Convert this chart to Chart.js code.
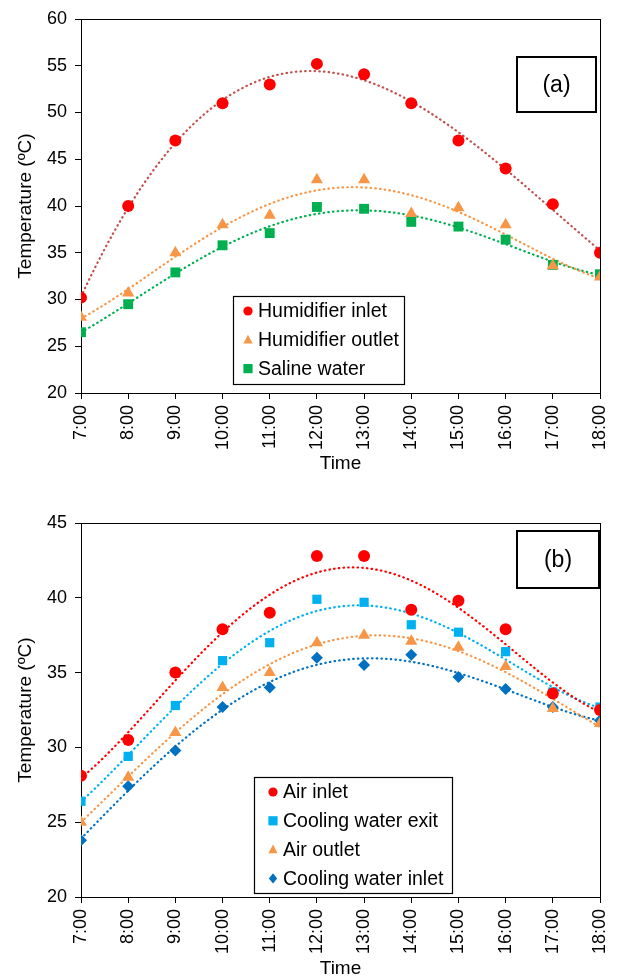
<!DOCTYPE html>
<html>
<head>
<meta charset="utf-8">
<script src="https://cdn.jsdelivr.net/npm/chart.js@4.4.1/dist/chart.umd.min.js"></script>
<style>
  body { margin: 0; background: #fff; }
  .box { width: 618px; position: relative; }
</style>
</head>
<body>
<div class="box" style="height:480px"><canvas id="chartA"></canvas></div>
<div class="box" style="height:496px"><canvas id="chartB"></canvas></div>
<script>
// ---- data ----
const hours = [7, 8, 9, 10, 11, 12, 13, 14, 15, 16, 17, 18];
const timeLabels = ['7:00', '8:00', '9:00', '10:00', '11:00', '12:00', '13:00', '14:00', '15:00', '16:00', '17:00', '18:00'];
const yTicksA = [20, 25, 30, 35, 40, 45, 50, 55, 60];
const yTicksB = [20, 25, 30, 35, 40, 45];

// (a)
const humidifierInlet  = [30.2, 40.0, 47.0, 51.0, 53.0, 55.2, 54.1, 51.0, 47.0, 44.0, 40.2, 35.0];
const humidifierOutlet = [28.1, 30.7, 35.0, 38.0, 39.0, 42.8, 42.8, 39.2, 39.8, 38.0, 33.6, 32.4];
const salineWater      = [26.5, 29.5, 32.9, 35.8, 37.1, 39.9, 39.7, 38.3, 37.8, 36.4, 33.7, 32.7];

// (b)
const airInlet          = [28.1, 30.5, 35.0, 37.9, 39.0, 42.8, 42.8, 39.2, 39.8, 37.9, 33.6, 32.5];
const coolingWaterExit  = [26.4, 29.4, 32.8, 35.8, 37.0, 39.9, 39.7, 38.2, 37.7, 36.4, 33.7, 32.7];
const airOutlet         = [25.0, 28.0, 31.0, 34.0, 35.0, 37.0, 37.5, 37.1, 36.7, 35.4, 32.6, 31.6];
const coolingWaterInlet = [23.8, 27.4, 29.8, 32.7, 34.0, 36.0, 35.5, 36.2, 34.7, 33.9, 32.7, 31.8];

const RED = '#FF0000', ORANGE = '#F79646', GREEN = '#00B050', CYAN = '#00B0F0', BLUE = '#0070C0';
const FONT = "'Liberation Sans', Arial, sans-serif";

// least-squares polynomial trendline (like the spreadsheet's polynomial trendline)
function polyFit(xs, ys, order) {
  const n = order + 1;
  const A = Array.from({ length: n }, () => new Array(n + 1).fill(0));
  xs.forEach((x, i) => {
    const t = x - 12.5;
    for (let r = 0; r < n; r++) {
      for (let c = 0; c < n; c++) A[r][c] += Math.pow(t, r + c);
      A[r][n] += ys[i] * Math.pow(t, r);
    }
  });
  for (let p = 0; p < n; p++) {
    let best = p;
    for (let r = p + 1; r < n; r++) if (Math.abs(A[r][p]) > Math.abs(A[best][p])) best = r;
    [A[p], A[best]] = [A[best], A[p]];
    for (let r = 0; r < n; r++) {
      if (r === p) continue;
      const f = A[r][p] / A[p][p];
      for (let c = p; c <= n; c++) A[r][c] -= f * A[p][c];
    }
  }
  return A.map((row, i) => row[n] / row[i]);
}
function trend(ys) {
  const k = polyFit(hours, ys, 4);
  const pts = [];
  for (let x = hours[0]; x <= hours[hours.length - 1] + 1e-9; x += 0.1) {
    const t = x - 12.5;
    pts.push({ x: x, y: k.reduce((s, c, i) => s + c * Math.pow(t, i), 0) });
  }
  return pts;
}
const pts = ys => hours.map((h, i) => ({ x: h, y: ys[i] }));

function markerSet(label, ys, color, style, radius) {
  return { label, data: pts(ys), backgroundColor: color, borderColor: color, borderWidth: 0,
           pointStyle: style, pointRadius: radius, showLine: false, legend: true, order: 0 };
}
function trendSet(ys, color) {
  return { data: trend(ys), borderColor: color, borderWidth: 2.2, borderDash: [0.5, 4.2],
           borderCapStyle: 'round', pointRadius: 0, showLine: true, fill: false, order: 1 };
}

// marker drawing for the boxed legend
function drawMarker(ctx, style, x, y, r) {
  ctx.beginPath();
  if (style === 'circle') ctx.arc(x, y, r, 0, Math.PI * 2);
  else if (style === 'triangle') { ctx.moveTo(x, y - r * 1.1); ctx.lineTo(x + r, y + r * 0.8); ctx.lineTo(x - r, y + r * 0.8); ctx.closePath(); }
  else if (style === 'rect') ctx.rect(x - r, y - r, r * 2, r * 2);
  else if (style === 'rectRot') { ctx.moveTo(x, y - r * 1.1); ctx.lineTo(x + r * 0.9, y); ctx.lineTo(x, y + r * 1.1); ctx.lineTo(x - r * 0.9, y); ctx.closePath(); }
  ctx.fill();
}

const framePlugin = {
  id: 'frame',
  beforeDatasetsDraw(chart) {
    const { ctx, chartArea: a } = chart;
    ctx.save();
    ctx.strokeStyle = '#000';
    ctx.lineWidth = 1;
    ctx.strokeRect(a.left + 0.5, a.top + 0.5, a.right - a.left, a.bottom - a.top);
    ctx.restore();
  }
};

const boxLegend = {
  id: 'boxLegend',
  afterDraw(chart, args, o) {
    const ctx = chart.ctx;
    ctx.save();
    // panel tag
    ctx.fillStyle = '#fff';
    ctx.fillRect(o.tag.x, o.tag.y, o.tag.w, o.tag.h);
    ctx.strokeStyle = '#000';
    ctx.lineWidth = 2;
    ctx.strokeRect(o.tag.x, o.tag.y, o.tag.w, o.tag.h);
    ctx.fillStyle = '#000';
    ctx.font = '23px ' + FONT;
    ctx.textAlign = 'center';
    ctx.textBaseline = 'middle';
    ctx.fillText(o.tag.text, o.tag.x + o.tag.w / 2, o.tag.y + o.tag.h / 2 + 1);
    // legend
    ctx.fillStyle = '#fff';
    ctx.fillRect(o.x, o.y, o.w, o.h);
    ctx.lineWidth = 1.2;
    ctx.strokeRect(o.x + 0.5, o.y + 0.5, o.w, o.h);
    ctx.font = '19.5px ' + FONT;
    ctx.textAlign = 'left';
    chart.data.datasets.filter(d => d.legend).forEach((d, i) => {
      const cy = o.y + o.first + i * o.rowH;
      ctx.fillStyle = d.backgroundColor;
      drawMarker(ctx, d.pointStyle, o.markerX, cy, 4.6);
      ctx.fillStyle = '#000';
      ctx.fillText(d.label, o.textX, cy + 1);
    });
    ctx.restore();
  }
};

function makeOptions(yTicks, padTop, xHeight, titleBottomPad, legendOpts) {
  return {
    responsive: true,
    maintainAspectRatio: false,
    animation: false,
    layout: { padding: { left: 0, right: 18, top: padTop, bottom: 0 } },
    plugins: { legend: { display: false }, tooltip: { enabled: false }, boxLegend: legendOpts },
    scales: {
      x: {
        type: 'linear',
        min: hours[0],
        max: hours[hours.length - 1],
        afterBuildTicks: s => { s.ticks = hours.map(v => ({ value: v })); },
        afterFit: s => { s.height = xHeight; s.paddingLeft = 0; s.paddingRight = 0; },
        grid: { drawOnChartArea: false, color: '#000', tickLength: 6 },
        border: { color: '#000', width: 1 },
        ticks: {
          color: '#000', font: { family: FONT, size: 18 }, minRotation: 90, maxRotation: 90, padding: 6,
          callback: v => timeLabels[hours.indexOf(v)]
        },
        title: { display: true, text: 'Time', color: '#000', font: { family: FONT, size: 19 },
                 padding: { top: 0, bottom: titleBottomPad } }
      },
      y: {
        min: yTicks[0],
        max: yTicks[yTicks.length - 1],
        afterBuildTicks: s => { s.ticks = yTicks.map(v => ({ value: v })); },
        afterFit: s => { s.width = 81; },
        grid: { drawOnChartArea: false, color: '#000', tickLength: 6 },
        border: { color: '#000', width: 1 },
        ticks: { color: '#000', font: { family: FONT, size: 18 }, padding: 8 },
        title: { display: true, text: 'Temperature (ºC)', color: '#000', font: { family: FONT, size: 19 },
                 padding: { top: 14, bottom: 0 } }
      }
    }
  };
}

new Chart(document.getElementById('chartA'), {
  type: 'scatter',
  data: {
    datasets: [
      markerSet('Humidifier inlet', humidifierInlet, RED, 'circle', 6),
      markerSet('Humidifier outlet', humidifierOutlet, ORANGE, 'triangle', 7),
      markerSet('Saline water', salineWater, GREEN, 'rect', 7),
      trendSet(humidifierInlet, '#C0504D'),
      trendSet(humidifierOutlet, ORANGE),
      trendSet(salineWater, GREEN)
    ]
  },
  options: makeOptions(yTicksA, 19, 87, 5, {
    x: 233, y: 296, w: 171, h: 88, first: 15, rowH: 28.8, markerX: 248, textX: 258,
    tag: { x: 517, y: 57, w: 79, h: 55, text: '(a)' }
  }),
  plugins: [framePlugin, boxLegend]
});

new Chart(document.getElementById('chartB'), {
  type: 'scatter',
  data: {
    datasets: [
      markerSet('Air inlet', airInlet, RED, 'circle', 6),
      markerSet('Cooling water exit', coolingWaterExit, CYAN, 'rect', 6.5),
      markerSet('Air outlet', airOutlet, ORANGE, 'triangle', 7),
      markerSet('Cooling water inlet', coolingWaterInlet, BLUE, 'rectRot', 6),
      trendSet(airInlet, RED),
      trendSet(coolingWaterExit, CYAN),
      trendSet(airOutlet, ORANGE),
      trendSet(coolingWaterInlet, BLUE)
    ]
  },
  options: makeOptions(yTicksB, 43, 79, -4, {
    x: 254, y: 297, w: 198, h: 116, first: 15, rowH: 28.8, markerX: 273, textX: 283,
    tag: { x: 517, y: 51, w: 82, h: 57, text: '(b)' }
  }),
  plugins: [framePlugin, boxLegend]
});
</script>
</body>
</html>
